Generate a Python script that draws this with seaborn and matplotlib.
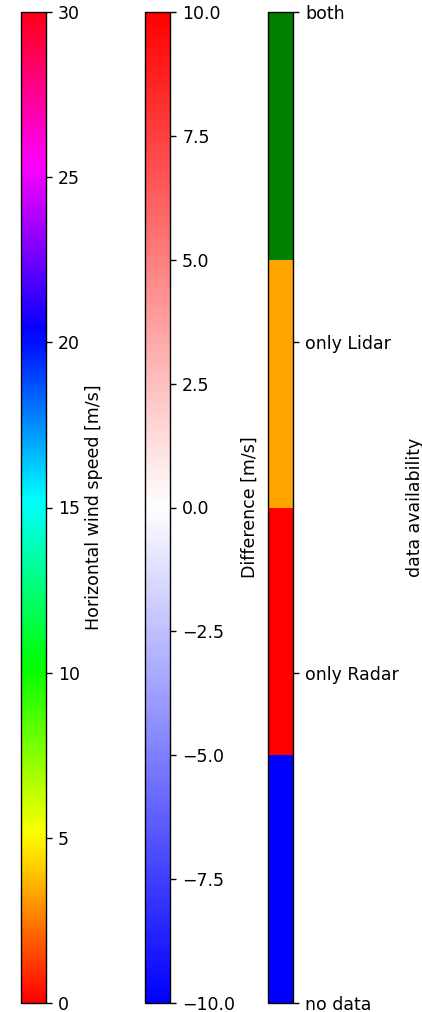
import matplotlib
matplotlib.use("Agg")
import matplotlib.pyplot as plt
import matplotlib as mpl
import seaborn as sns
import numpy as np

# Data
speed_range = [0, 30]
speed_ticks = [0, 5, 10, 15, 20, 25, 30]
diff_range = [-10.0, 10.0]
diff_ticks = [-10.0, -7.5, -5.0, -2.5, 0.0, 2.5, 5.0, 7.5, 10.0]
avail_colors = ["blue", "red", "orange", "green"]
avail_values = [0, 1, 2, 3]
avail_labels = ["no data", "only Radar", "only Lidar", "both"]
labels = ["Horizontal wind speed [m/s]", "Difference [m/s]", "data availability"]

W, H = 422, 1012
dpi = 125
fig = plt.figure(figsize=(W / dpi, H / dpi), dpi=dpi)

def ax_at(x0, x1, y0=12, y1=1003):
    return fig.add_axes([x0 / W, 1 - y1 / H, (x1 - x0) / W, (y1 - y0) / H])

cax1 = ax_at(21, 46)
cax2 = ax_at(145, 170)
cax3 = ax_at(268, 293)

cmap1 = sns.color_palette("hsv", as_cmap=True)
cb1 = mpl.colorbar.ColorbarBase(cax1, cmap=cmap1,
                                norm=mpl.colors.Normalize(*speed_range),
                                orientation="vertical", ticks=speed_ticks)
cb1.set_label(labels[0], labelpad=3)

cmap2 = sns.color_palette("bwr", as_cmap=True)
cb2 = mpl.colorbar.ColorbarBase(cax2, cmap=cmap2,
                                norm=mpl.colors.Normalize(*diff_range),
                                orientation="vertical", ticks=diff_ticks)
cb2.set_label(labels[1], labelpad=3)

cmap3 = mpl.colors.ListedColormap(sns.color_palette(avail_colors))
cb3 = mpl.colorbar.ColorbarBase(cax3, cmap=cmap3,
                                norm=mpl.colors.Normalize(avail_values[0], avail_values[-1]),
                                orientation="vertical", ticks=avail_values)
cb3.set_ticklabels(avail_labels)
cb3.set_label(labels[2], labelpad=4)

fig.savefig("out.png", dpi=dpi)
